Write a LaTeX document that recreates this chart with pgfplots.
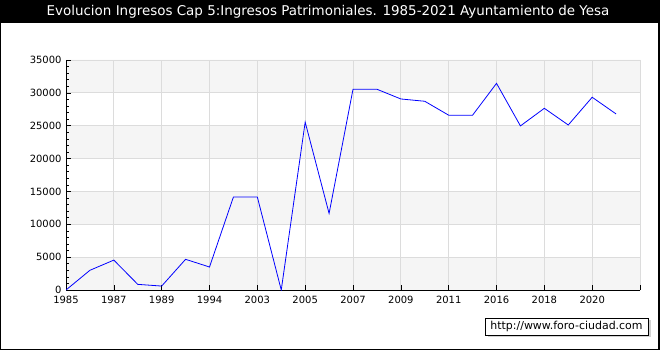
\documentclass[border=0pt]{standalone}
\usepackage{fontspec}
\setmainfont{DejaVu Sans}
\usepackage{pgfplots}
\pgfplotsset{compat=1.18}
\definecolor{bandgray}{HTML}{F5F5F5}
\definecolor{gridgray}{HTML}{DCDCDC}
\pgfdeclarelayer{bg}
\pgfplotsset{layers/mylayers/.define layer set={bg,axis background,axis grid,axis ticks,axis lines,axis tick labels,pre main,main,axis descriptions,axis foreground}{}}
\begin{document}
\begin{tikzpicture}[x=1bp,y=1bp]
\begin{axis}[
  set layers=mylayers,
  at={(66bp,60bp)}, anchor=south west,
  scale only axis, width=574bp, height=230bp,
  xmin=0, xmax=24, ymin=0, ymax=35000,
  axis x line*=bottom, axis y line*=left,
  axis line style={black, line width=0.8pt},
  xtick={0,2,...,24},
  xticklabels={1985,1987,1989,1994,2003,2005,2007,2009,2011,2016,2018,2020,},
  ytick={0,5000,...,35000},
  minor y tick num=4,
  scaled y ticks=false,
  yticklabel style={/pgf/number format/1000 sep={}, xshift=-1bp},
  xticklabel style={yshift=-3bp},
  /pgf/number format/assume math mode=true,
  tick label style={font=\fontsize{10}{11}\selectfont, black},
  major tick length=5bp, minor tick length=3bp,
  tick style={black, line width=0.6pt},
  xmajorgrids, ymajorgrids,
  grid style={gridgray, line width=0.8pt},
]
\addplot[on layer=axis background, fill=bandgray, draw=none] coordinates {(0,0) (24,0) (24,5000) (0,5000) (0,0)};
\addplot[on layer=axis background, fill=bandgray, draw=none] coordinates {(0,10000) (24,10000) (24,15000) (0,15000) (0,10000)};
\addplot[on layer=axis background, fill=bandgray, draw=none] coordinates {(0,20000) (24,20000) (24,25000) (0,25000) (0,20000)};
\addplot[on layer=axis background, fill=bandgray, draw=none] coordinates {(0,30000) (24,30000) (24,35000) (0,35000) (0,30000)};
\addplot[blue, line width=0.8pt, mark=none] coordinates {
(0,0) (1,3000) (2,4550) (3,860) (4,600) (5,4670) (6,3500) (7,14150) (8,14150)
(9,0) (10,25550) (11,11650) (12,30550) (13,30550) (14,29070) (15,28720)
(16,26600) (17,26600) (18,31450) (19,24970) (20,27650) (21,25110) (22,29330) (23,26790)
};
\end{axis}
\begin{pgfonlayer}{bg}
\fill[white] (0,0) rectangle (660,350);
\end{pgfonlayer}
\fill[black] (0,327) rectangle (660,350);
\fill[black] (0,0) rectangle (1.2,350);
\fill[black] (658,0) rectangle (660,350);
\fill[black] (0,0) rectangle (660,1.5);
\node[white, font=\fontsize{13.5}{15}\selectfont] at (328,338) {Evolucion Ingresos Cap 5:Ingresos Patrimoniales. 1985-2021 Ayuntamiento de Yesa};
\fill[gray!35] (487.5,13.5) rectangle (650.5,30.5);
\draw[black, fill=white, line width=0.7pt] (485,15) rectangle (648,32);
\node[font=\fontsize{11}{12}\selectfont] at (566.5,23.5) {http://www.foro-ciudad.com};
\end{tikzpicture}
\end{document}
